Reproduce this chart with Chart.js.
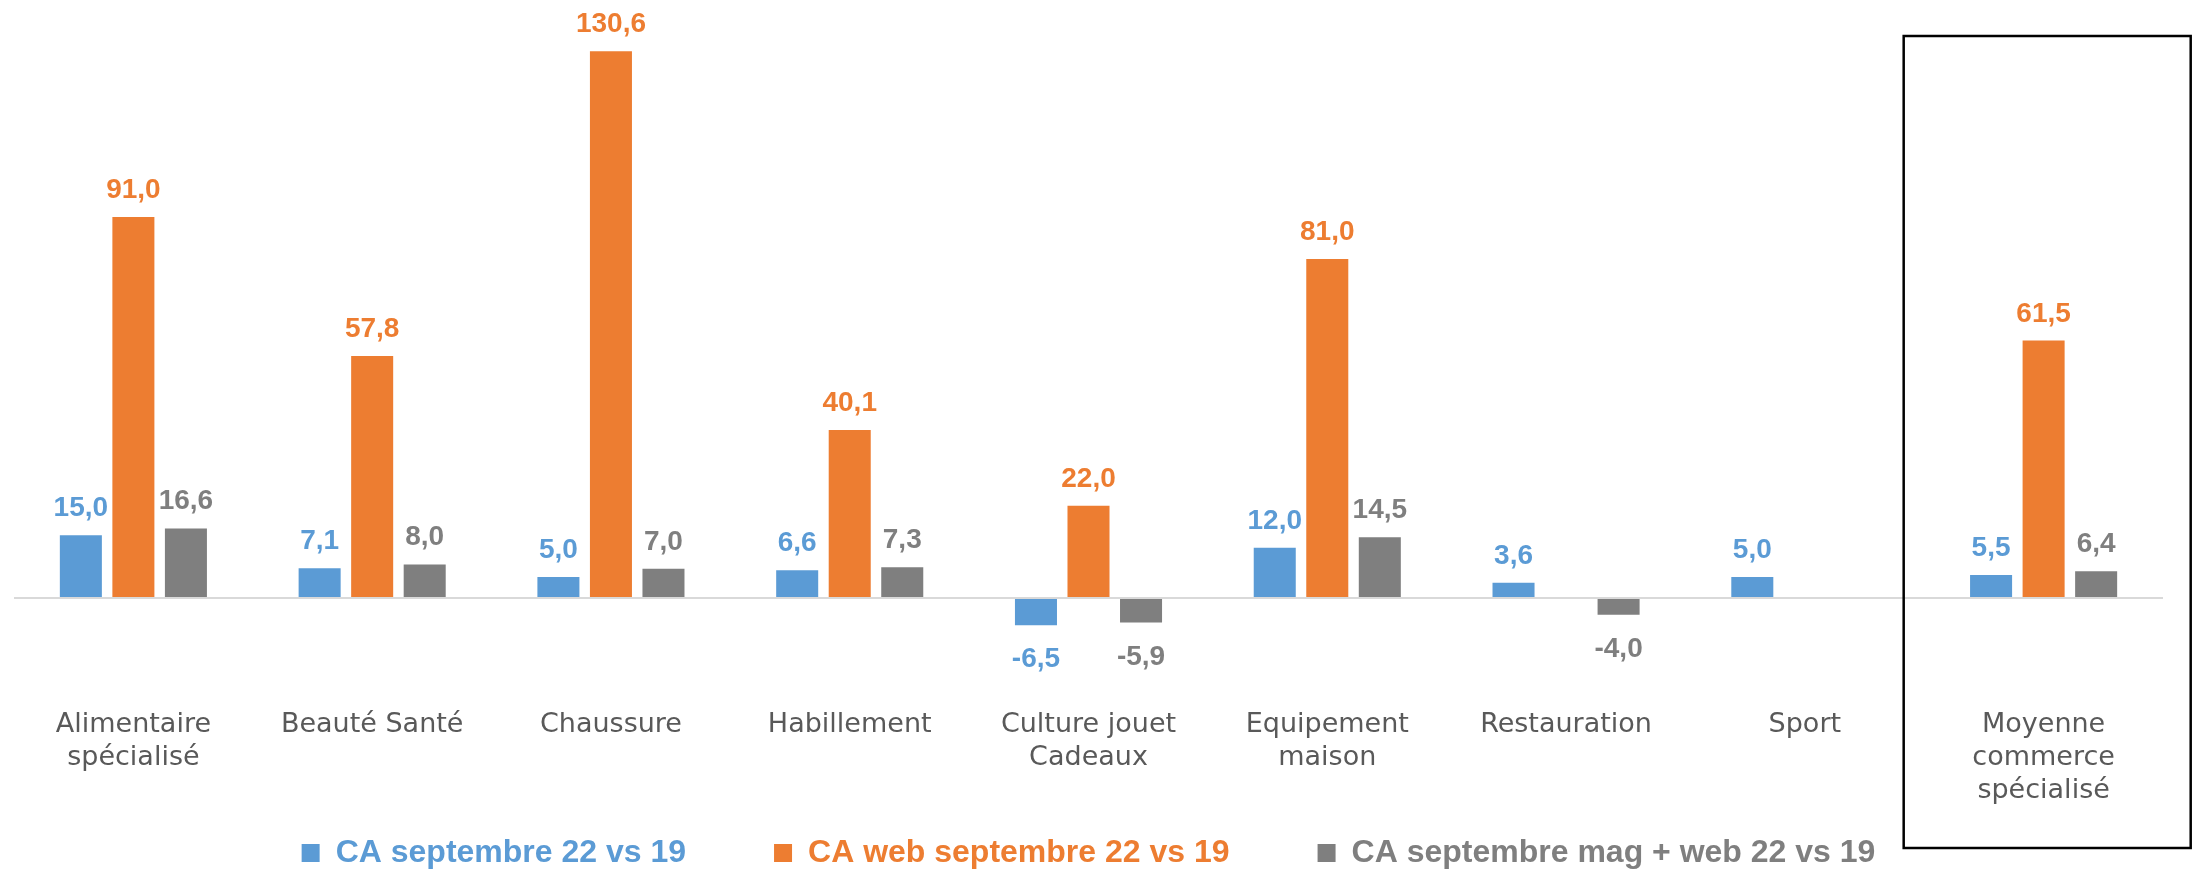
<!DOCTYPE html>
<html lang="fr">
<head>
    <meta charset="UTF-8">
    <title>CA septembre 22 vs 19</title>
    <script src="https://cdn.jsdelivr.net/npm/chart.js"></script>
    <style>
        body { margin: 0; background: #fff; }
        #wrap { width: 2195px; height: 871px; }
    </style>
</head>
<body>
<div id="wrap"><canvas id="barChart"></canvas></div>
<script>
    // categories (arrays = multi-line labels)
    const categories = [
        ['Alimentaire', 'spécialisé'],
        'Beauté Santé',
        'Chaussure',
        'Habillement',
        ['Culture jouet', 'Cadeaux'],
        ['Equipement', 'maison'],
        'Restauration',
        'Sport',
        ['Moyenne', 'commerce', 'spécialisé']
    ];
    // values (null = no bar)
    const caMagasin = [15.0, 7.1, 5.0, 6.6, -6.5, 12.0, 3.6, 5.0, 5.5];
    const caWeb = [91.0, 57.8, 130.6, 40.1, 22.0, 81.0, null, null, 61.5];
    const caTotal = [16.6, 8.0, 7.0, 7.3, -5.9, 14.5, -4.0, null, 6.4];
    const seriesNames = ['CA septembre 22 vs 19', 'CA web septembre 22 vs 19', 'CA septembre mag + web 22 vs 19'];
    const seriesColors = ['#5B9BD5', '#ED7D31', '#7F7F7F'];

    // value labels above (or below for negatives) each bar, comma decimals
    const valueLabels = {
        id: 'valueLabels',
        beforeDraw(chart) {
            // x axis box was shrunk so the legend fits; let its labels overflow downwards
            chart.scales.x.bottom = chart.height;
        },
        afterDatasetsDraw(chart) {
            const ctx = chart.ctx;
            ctx.save();
            ctx.font = 'bold 28px "Liberation Sans"';
            ctx.textAlign = 'center';
            ctx.textBaseline = 'alphabetic';
            chart.data.datasets.forEach((ds, i) => {
                chart.getDatasetMeta(i).data.forEach((bar, j) => {
                    const v = ds.data[j];
                    if (v === null || v === undefined) return;
                    ctx.fillStyle = ds.backgroundColor;
                    const txt = v.toFixed(1).replace('.', ',');
                    ctx.fillText(txt, bar.x, v >= 0 ? bar.y - 19 : bar.y + 42);
                });
            });
            ctx.restore();
        }
    };

    // black frame around the last category (average)
    const highlightBox = {
        id: 'highlightBox',
        afterDraw(chart) {
            const x = chart.scales.x;
            const cx = x.getPixelForValue(categories.length - 1);
            const cw = x.width / categories.length;
            const ctx = chart.ctx;
            ctx.save();
            ctx.strokeStyle = '#000';
            ctx.lineWidth = 2.5;
            ctx.strokeRect(cx - 0.586 * cw, 36, 1.202 * cw, 812);
            ctx.restore();
        }
    };

    const datasets = [caMagasin, caWeb, caTotal].map((vals, i) => ({
        label: seriesNames[i],
        data: vals,
        backgroundColor: seriesColors[i],
        categoryPercentage: 0.66,
        barPercentage: 0.8
    }));

    new Chart(document.getElementById('barChart'), {
        type: 'bar',
        data: { labels: categories, datasets: datasets },
        options: {
            responsive: true,
            maintainAspectRatio: false,
            animation: false,
            layout: { padding: { top: 12, left: 14, right: 32, bottom: -8 } },
            scales: {
                x: {
                    grid: { display: false, drawTicks: false },
                    border: { display: false },
                    ticks: {
                        color: '#595959',
                        font: { family: 'DejaVu Sans', size: 27, lineHeight: 1.22 },
                        padding: 19,
                        autoSkip: false,
                        maxRotation: 0
                    },
                    afterFit(scale) { scale.height = 59; }
                },
                y: {
                    min: -22,
                    max: 140,
                    ticks: { display: false, stepSize: 10 },
                    border: { display: false },
                    grid: {
                        drawTicks: false,
                        lineWidth: 2,
                        color: c => (c.tick && c.tick.value === 0) ? '#D9D9D9' : 'rgba(0,0,0,0)'
                    }
                }
            },
            plugins: {
                legend: {
                    position: 'bottom',
                    labels: {
                        boxWidth: 18,
                        boxHeight: 18,
                        padding: 88,
                        font: { family: 'Liberation Sans', size: 32, weight: 'bold' },
                        generateLabels(chart) {
                            return chart.data.datasets.map((ds, i) => ({
                                text: ds.label,
                                fillStyle: ds.backgroundColor,
                                strokeStyle: ds.backgroundColor,
                                lineWidth: 0,
                                fontColor: ds.backgroundColor,
                                hidden: false,
                                datasetIndex: i
                            }));
                        }
                    }
                },
                tooltip: { enabled: false }
            }
        },
        plugins: [valueLabels, highlightBox]
    });
</script>
</body>
</html>
